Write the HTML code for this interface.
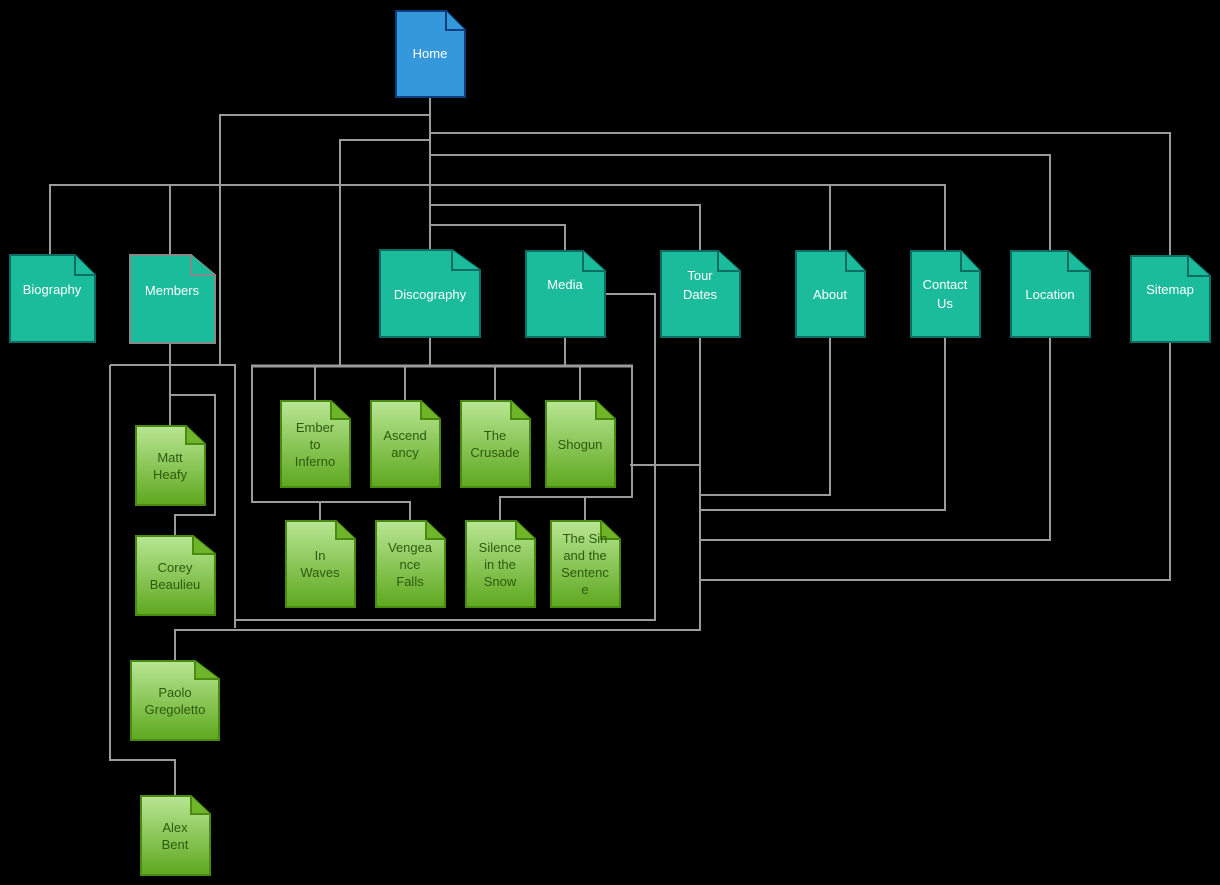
<!DOCTYPE html>
<html><head><meta charset="utf-8"><style>
html,body{margin:0;padding:0;background:#000;}
svg{display:block;}
text{font-family:"Liberation Sans",sans-serif;font-size:13px;text-anchor:middle;}
.t text{fill:#fff;}
.g text{fill:#2e5a0e;}
</style></head><body>
<svg width="1220" height="885" viewBox="0 0 1220 885" xmlns="http://www.w3.org/2000/svg">
<defs>
<linearGradient id="gg" x1="0" y1="0" x2="0" y2="1">
<stop offset="0" stop-color="#b8e693"/><stop offset="1" stop-color="#5ea81f"/>
</linearGradient>
</defs>
<rect width="1220" height="885" fill="#000"/>
<g fill="none" stroke="#9b9b9b" stroke-width="2">
<path d="M430 97 V250"/>
<path d="M430 115 H220 V365"/>
<path d="M110 365 H235 V628"/>
<path d="M110 365 V760 H175 V796"/>
<path d="M175 661 V630 H700 V337"/>
<path d="M605 294 H655 V620 H235"/>
<path d="M430 133 H1170 V256"/>
<path d="M1170 342 V580 H700"/>
<path d="M430 140 H340 V365"/>
<path d="M430 155 H1050 V251"/>
<path d="M1050 337 V540 H700"/>
<path d="M50 255 V185 H945 V251"/>
<path d="M170 185 V255"/>
<path d="M830 185 V251"/>
<path d="M430 205 H700 V251"/>
<path d="M430 225 H565 V251"/>
<path d="M830 337 V495 H700"/>
<path d="M945 337 V510 H700"/>
<path d="M170 343 V426"/>
<path d="M170 395 H215 V515 H175 V536"/>
<path d="M430 337 V365"/>
<path d="M565 337 V365"/>
<path d="M252 367 V502 H410 V521"/>
<path d="M320 502 V521"/>
<path d="M632 367 V497 H500 V521"/>
<path d="M585 497 V521"/>
<path d="M315 367 V401 M405 367 V401 M495 367 V401 M580 367 V401"/>
<path d="M630 465 H700"/>
</g>
<path d="M251 366 H633" stroke="#9b9b9b" stroke-width="3" fill="none"/>

<!-- Home -->
<g stroke="#0d3f80" stroke-width="2" fill="#3498db">
<path d="M396 11 H446 L465 30 V97 H396 Z"/><path d="M446 11 V30 H465"/>
</g>
<text x="430" y="58" fill="#fff">Home</text>

<!-- teal -->
<g stroke="#0e6e66" stroke-width="2" fill="#1abc9c">
<path d="M10 255 H75 L95 275 V342 H10 Z"/><path d="M75 255 V275 H95"/>
<path d="M380 250 H452 L480 270 V337 H380 Z"/><path d="M452 250 V270 H480"/>
<path d="M526 251 H583 L605 271 V337 H526 Z"/><path d="M583 251 V271 H605"/>
<path d="M661 251 H718 L740 271 V337 H661 Z"/><path d="M718 251 V271 H740"/>
<path d="M796 251 H846 L865 271 V337 H796 Z"/><path d="M846 251 V271 H865"/>
<path d="M911 251 H961 L980 271 V337 H911 Z"/><path d="M961 251 V271 H980"/>
<path d="M1011 251 H1068 L1090 271 V337 H1011 Z"/><path d="M1068 251 V271 H1090"/>
<path d="M1131 256 H1188 L1210 276 V342 H1131 Z"/><path d="M1188 256 V276 H1210"/>
</g>
<g stroke="#888" stroke-width="2" fill="#1abc9c">
<path d="M130 255 H191 L215 275 V343 H130 Z"/><path d="M191 255 V275 H215"/>
</g>
<g class="t">
<text x="52" y="294">Biography</text>
<text x="172" y="295">Members</text>
<text x="430" y="299">Discography</text>
<text x="565" y="289">Media</text>
<text x="700" y="280">Tour</text><text x="700" y="299">Dates</text>
<text x="830" y="299">About</text>
<text x="945" y="289">Contact</text><text x="945" y="308">Us</text>
<text x="1050" y="299">Location</text>
<text x="1170" y="294">Sitemap</text>
</g>

<!-- green -->
<g stroke="#4a8a10" stroke-width="2" fill="url(#gg)">
<path d="M136 426 H186 L205 444 V505 H136 Z"/><path d="M186 426 V444 H205" fill="#6fb52a"/>
<path d="M136 536 H193 L215 554 V615 H136 Z"/><path d="M193 536 V554 H215" fill="#6fb52a"/>
<path d="M131 661 H195 L219 679 V740 H131 Z"/><path d="M195 661 V679 H219" fill="#6fb52a"/>
<path d="M141 796 H191 L210 814 V875 H141 Z"/><path d="M191 796 V814 H210" fill="#6fb52a"/>
<path d="M281 401 H331 L350 419 V487 H281 Z"/><path d="M331 401 V419 H350" fill="#6fb52a"/>
<path d="M371 401 H421 L440 419 V487 H371 Z"/><path d="M421 401 V419 H440" fill="#6fb52a"/>
<path d="M461 401 H511 L530 419 V487 H461 Z"/><path d="M511 401 V419 H530" fill="#6fb52a"/>
<path d="M546 401 H596 L615 419 V487 H546 Z"/><path d="M596 401 V419 H615" fill="#6fb52a"/>
<path d="M286 521 H336 L355 539 V607 H286 Z"/><path d="M336 521 V539 H355" fill="#6fb52a"/>
<path d="M376 521 H426 L445 539 V607 H376 Z"/><path d="M426 521 V539 H445" fill="#6fb52a"/>
<path d="M466 521 H516 L535 539 V607 H466 Z"/><path d="M516 521 V539 H535" fill="#6fb52a"/>
<path d="M551 521 H601 L620 539 V607 H551 Z"/><path d="M601 521 V539 H620" fill="#6fb52a"/>
</g>
<g class="g">
<text x="170" y="462">Matt</text><text x="170" y="479">Heafy</text>
<text x="175" y="572">Corey</text><text x="175" y="589">Beaulieu</text>
<text x="175" y="697">Paolo</text><text x="175" y="714">Gregoletto</text>
<text x="175" y="832">Alex</text><text x="175" y="849">Bent</text>
<text x="315" y="432">Ember</text><text x="315" y="449">to</text><text x="315" y="466">Inferno</text>
<text x="405" y="440">Ascend</text><text x="405" y="457">ancy</text>
<text x="495" y="440">The</text><text x="495" y="457">Crusade</text>
<text x="580" y="449">Shogun</text>
<text x="320" y="560">In</text><text x="320" y="577">Waves</text>
<text x="410" y="552">Vengea</text><text x="410" y="569">nce</text><text x="410" y="586">Falls</text>
<text x="500" y="552">Silence</text><text x="500" y="569">in the</text><text x="500" y="586">Snow</text>
<text x="585" y="543">The Sin</text><text x="585" y="560">and the</text><text x="585" y="577">Sentenc</text><text x="585" y="594">e</text>
</g>
</svg>
</body></html>
